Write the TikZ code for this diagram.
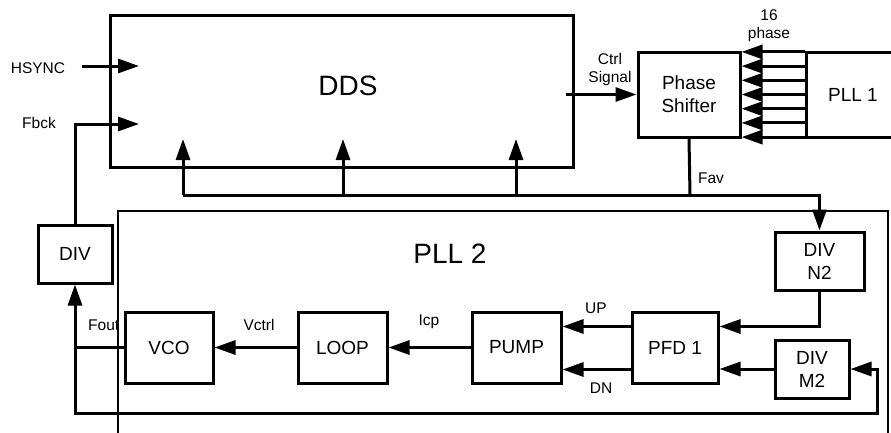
\documentclass[tikz,border=0pt]{standalone}
\usepackage{fontspec}
\setmainfont{Liberation Sans}
\usetikzlibrary{arrows.meta}

\tikzset{
  blk/.style={draw, line width=3pt, inner sep=0pt, align=center, font=\fontsize{19}{23}\selectfont},
  lbl/.style={inner sep=0pt, align=center, font=\fontsize{15.5}{18}\selectfont},
  big/.style={inner sep=0pt, font=\fontsize{28}{32}\selectfont},
  wire/.style={line width=3pt},
  arr/.style={line width=3pt, -{Triangle[length=21pt,width=14pt]}},
}

\begin{document}
\begin{tikzpicture}[x=1pt, y=-1pt]
  \useasboundingbox (0,0) rectangle (891,432);

  % DDS
  \node[blk, minimum width=463pt, minimum height=152pt] (dds) at (341.5,91) {};
  \node[big] (ddstext) at (348,86) {DDS};
  \node[lbl] (hsync) at (38,68) {HSYNC};
  \node[lbl] (fbck) at (39,123) {Fbck};
  \coordinate (hsout) at (82,66);
  \coordinate (hsin) at (139,66);
  \coordinate (fbin) at (139,124);
  \coordinate (in1) at (183,139);
  \coordinate (in2) at (343,139);
  \coordinate (in3) at (516,139);
  \draw[arr] (hsout) -- (hsin);

  % Phase Shifter, PLL 1
  \node[blk, minimum width=102pt, minimum height=85pt] (ps) at (689,94.5) {Phase\\Shifter};
  \node[blk, minimum width=94pt, minimum height=85pt] (pll1) at (853,94.5) {PLL 1};
  \node[lbl] (phase16) at (769,26) {16\\phase};
  \foreach \k in {-3,...,3}
    \draw[arr] ([yshift=\k*14.2pt]pll1.west) -- ([yshift=\k*14.2pt]ps.east);
  \coordinate (ctrlout) at (566,94.5);
  \node[lbl] (ctrl) at (610,69) {Ctrl\\Signal};
  \draw[arr] (ctrlout) -- (ps.west);

  % Fav
  \coordinate (fav) at (690,195);
  \node[lbl] (favtext) at (711,178) {Fav};
  \draw[wire] (ps.south) -- (fav);

  % PLL 2
  \draw[line width=2.2pt] (118,440) |- (888,211) -- (888,440);
  \node[big] (pll2text) at (450,254) {PLL 2};
  \node[blk, minimum width=88pt, minimum height=71pt] (vco) at (169,347.5) {VCO};
  \node[blk, minimum width=89pt, minimum height=71pt] (loop) at (342.5,347.5) {LOOP};
  \node[blk, minimum width=89pt, minimum height=71pt] (pump) at (516.5,347.5) {PUMP};
  \node[blk, minimum width=86pt, minimum height=71pt] (pfd) at (675,347.5) {PFD 1};
  \node[blk, minimum width=89pt, minimum height=58pt] (divn) at (819.5,261) {DIV\\N2};
  \node[blk, minimum width=74pt, minimum height=58pt] (divm) at (812,369) {DIV\\M2};
  \node[blk, minimum width=74pt, minimum height=58pt] (div) at (75,254) {DIV};

  \node[lbl] (vctrl) at (259,325) {Vctrl};
  \node[lbl] (icp) at (429,322) {Icp};
  \node[lbl] (up) at (596,308) {UP};
  \node[lbl] (dn) at (601,388) {DN};
  \node[lbl, anchor=west] (fout) at (88,325) {Fout};

  \draw[arr] (pump) -- (loop);
  \draw[arr] (loop) -- (vco);
  \draw[arr] ([yshift=21pt]pfd.west) -- ([yshift=21pt]pump.east);
  \draw[arr] ([yshift=-22pt]pfd.west) -- ([yshift=-22pt]pump.east);
  \draw[arr] (divn.south) |- ([yshift=21pt]pfd.east);
  \draw[arr] (divm.west) -- (divm.west -| pfd.east);

  % feedback
  \coordinate (fo) at (75,347.5);
  \coordinate (fb) at (877,413);
  \draw[arr] (vco.west) -| (div.south);
  \draw[arr] (fo) |- (fb) |- (divm.east);
  \draw[arr] (div.north) |- (fbin);
  \draw[arr] (in1 |- fav) -| (divn.north);
  \draw[arr] (in1 |- fav) -- (in1);
  \draw[arr] (in2 |- fav) -- (in2);
  \draw[arr] (in3 |- fav) -- (in3);
\end{tikzpicture}
\end{document}
